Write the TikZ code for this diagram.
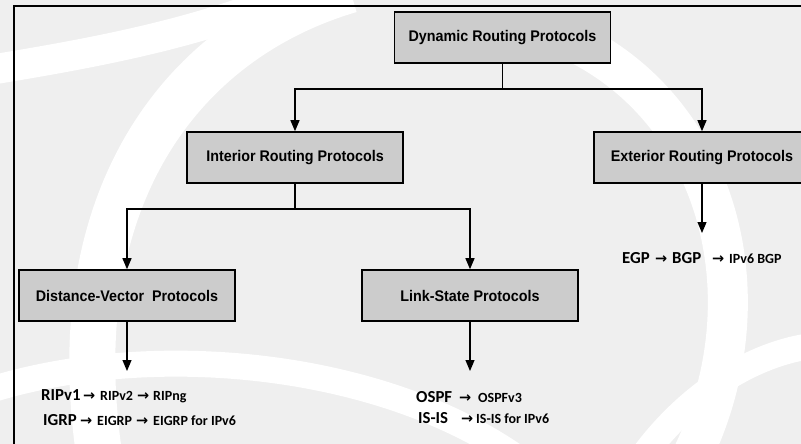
\documentclass[tikz,border=0pt]{standalone}
\usepackage{fontspec}
\setmainfont{Liberation Sans}
\newfontfamily\boxfont[FakeStretch=0.93]{Liberation Sans Bold}
\newfontfamily\calfont{Carlito Bold}
\newfontfamily\arrfont{DejaVu Sans Bold}
\usetikzlibrary{arrows.meta}
\definecolor{bgc}{HTML}{EFEFEF}
\definecolor{boxc}{HTML}{CCCCCC}
\begin{document}
\begin{tikzpicture}[x=1pt,y=-1pt,
  pbox/.style={draw=black,line width=1.6pt,fill=boxc,minimum width=216pt,minimum height=51pt,inner sep=0pt,font={\boxfont\fontsize{15.4}{17}\selectfont}},
  conn/.style={line width=1.2pt,-{Triangle[length=11pt,width=9pt]}},
  plainline/.style={line width=1.2pt},
  lbl/.style={anchor=base west,inner sep=0pt},
  lg/.style={lbl,font={\calfont\fontsize{16.8}{19}\selectfont}},
  sm/.style={lbl,font={\calfont\fontsize{14}{16}\selectfont}},
  arr/.style={lbl,font={\arrfont\fontsize{14.5}{16}\selectfont}},
  swoosh/.style={white,line cap=butt}]
\useasboundingbox (0,0) rectangle (801,444);
\fill[bgc] (0,0) rectangle (801,444);
% watermark
\draw[swoosh,line width=46pt] (350,-10) .. controls (180,40) and (60,200) .. (100,460);
\draw[swoosh,line width=30pt] (-10,70) .. controls (80,55) and (200,35) .. (300,-10);
\draw[swoosh,line width=40pt] (570,40) .. controls (720,110) and (770,300) .. (690,460);
\draw[swoosh,line width=26pt] (-10,390) .. controls (150,340) and (380,360) .. (520,460);
\draw[swoosh,line width=26pt] (640,460) .. controls (690,390) and (760,350) .. (820,345);
% frame
\draw[line width=2.2pt] (14,460) -- (14,6) -- (820,6);
% boxes
\node[pbox] (dyn) at (502.5,37.5) {Dynamic Routing Protocols};
\node[pbox] (int) at (295,157.5) {Interior Routing Protocols};
\node[pbox] (ext) at (702,157.5) {Exterior Routing Protocols};
\node[pbox] (dv) at (127,295.5) {Distance-Vector\ \ Protocols};
\node[pbox] (ls) at (470,295.5) {Link-State Protocols};
% junctions and ends
\coordinate (j1) at (502.5,89);
\coordinate (j2) at (295,209);
\coordinate (dvend) at (127,371);
\coordinate (lsend) at (470,371);
\coordinate (extend) at (702,233);
% connectors
\draw[plainline] (dyn.south) -- (j1);
\draw[conn] (j1) -| (int.north);
\draw[conn] (j1) -| (ext.north);
\draw[plainline] (int.south) -- (j2);
\draw[conn] (j2) -| (dv.north);
\draw[conn] (j2) -| (ls.north);
\draw[conn] (dv.south) -- (dvend);
\draw[conn] (ls.south) -- (lsend);
\draw[conn] (ext.south) -- (extend);
% texts: distance-vector
\node[lg]  (t1a) at (41,400) {RIPv1};
\node[arr] (t1b) at (83,400) {→};
\node[sm]  (t1c) at (100,400) {RIPv2};
\node[arr] (t1d) at (137,400) {→};
\node[sm]  (t1e) at (153,400) {RIPng};
\node[lg]  (t2a) at (43,425) {IGRP};
\node[arr] (t2b) at (80,425) {→};
\node[sm]  (t2c) at (97,425) {EIGRP};
\node[arr] (t2d) at (136,425) {→};
\node[sm]  (t2e) at (153,425) {EIGRP for IPv6};
% texts: link-state
\node[lg]  (t3a) at (416,402) {OSPF};
\node[arr] (t3b) at (459,402) {→};
\node[sm]  (t3c) at (478,402) {OSPFv3};
\node[lg]  (t4a) at (418,423) {IS-IS};
\node[arr] (t4b) at (461,423) {→};
\node[sm]  (t4c) at (476,423) {IS-IS for IPv6};
% texts: exterior
\node[lg]  (t5a) at (622,263) {EGP};
\node[arr] (t5b) at (655,263) {→};
\node[lg]  (t5c) at (672,263) {BGP};
\node[arr] (t5d) at (712,263) {→};
\node[sm]  (t5e) at (729,263) {IPv6 BGP};
\end{tikzpicture}
\end{document}
